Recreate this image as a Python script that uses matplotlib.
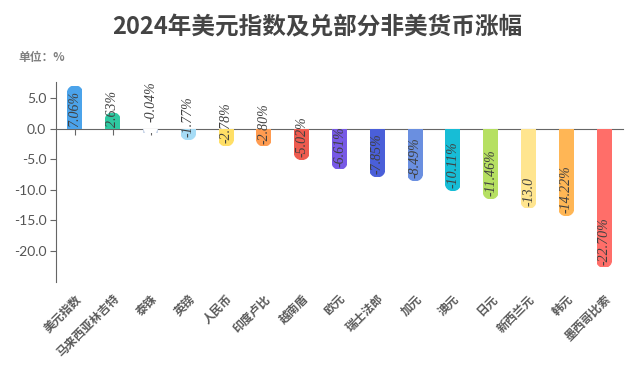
import matplotlib
matplotlib.use("Agg")
import matplotlib.pyplot as plt
from matplotlib.patches import Rectangle, Ellipse

plt.rcParams['font.family'] = ['Noto Sans CJK SC', 'DejaVu Sans']

# data
currencies = ['美元指数', '马来西亚林吉特', '泰铢', '英镑', '人民币', '印度卢比', '越南盾', '欧元',
              '瑞士法郎', '加元', '澳元', '日元', '新西兰元', '韩元', '墨西哥比索']
changes = [7.06, 2.63, -0.04, -1.77, -2.78, -2.80, -5.02, -6.61,
           -7.85, -8.49, -10.11, -11.46, -13.0, -14.22, -22.70]
value_labels = ['7.06%', '2.63%', '-0.04%', '-1.77%', '-2.78%', '-2.80%', '-5.02%', '-6.61%',
                '-7.85%', '-8.49%', '-10.11%', '-11.46%', '-13.0', '-14.22%', '-22.70%']
colors = ['#4ba3ea', '#2ec9a1', '#e4ebf5', '#a6dcf6', '#ffdf66', '#ff9b50', '#ee5b4f', '#7759e6',
          '#4a5fd9', '#6a8fe0', '#17bdd6', '#b6e062', '#ffe58f', '#ffb655', '#ff6e69']
yticks = [5.0, 0.0, -5.0, -10.0, -15.0, -20.0]

W, H = 635, 377
fig = plt.figure(figsize=(W / 100, H / 100), dpi=100)
ax = fig.add_axes([56 / W, 1 - 282 / H, (623 - 56) / W, 200 / H])
ax.set_xlim(-0.5, len(currencies) - 0.5)
ax.set_ylim(-25.1, 7.7)

# pixel sizes -> data units
px_x = (len(currencies)) / (623 - 56)
px_y = (7.7 + 25.1) / 200
bar_w = 15 * px_x
ry = 7.5 * px_y

for i, v in enumerate(changes):
    sign = 1 if v >= 0 else -1
    clip = Rectangle((i - bar_w / 2, min(0, v)), bar_w, abs(v), transform=ax.transData)
    body = v - sign * ry
    if abs(v) > ry:
        ax.bar(i, body, width=bar_w, color=colors[i], zorder=2)
    cap = Ellipse((i, body), bar_w, 2 * ry, color=colors[i], zorder=2)
    ax.add_patch(cap)
    cap.set_clip_path(clip)
    if abs(v) < 0.5:
        # tiny bar drawn as a light rounded stub
        stub = Ellipse((i, 0), bar_w, 2 * ry, facecolor='white', edgecolor='#c9d5e8', lw=1.2, zorder=2)
        ax.add_patch(stub)
        stub.set_clip_path(Rectangle((i - bar_w / 2, -0.7), bar_w, 0.7, transform=ax.transData))
    ystart = 0.25 if v >= 0 else v + 0.4
    if abs(v) < 0.5:
        ystart = 1.1
    ax.text(i, ystart, value_labels[i], rotation=90, rotation_mode='anchor', ha='left', va='center',
            family='Liberation Serif', style='italic', fontsize=10, color='#404040', zorder=3)

# axes styling
for s in ['top', 'right']:
    ax.spines[s].set_visible(False)
ax.spines['left'].set_color('#666666')
ax.spines['bottom'].set_position(('data', 0))
ax.spines['bottom'].set_color('#666666')
ax.spines['bottom'].set_zorder(1)
ax.set_xticks(range(len(currencies)))
ax.set_xticklabels([])
ax.tick_params(axis='x', length=4, color='#666666', direction='out')
ax.set_yticks(yticks)
ax.set_yticklabels([f'{t:.1f}' for t in yticks], family='Lato', fontsize=10, color='#555555')
ax.tick_params(axis='y', length=4, color='#666666', pad=3)

# category labels at bottom
for i, name in enumerate(currencies):
    ax.text(i + 0.12, -0.075, name, transform=ax.get_xaxis_transform(), rotation=45,
            rotation_mode='anchor', ha='right', va='center', fontsize=8.5, fontweight='bold',
            color='#5a5a5a')

fig.text(0.5, 1 - 27 / H, '2024年美元指数及兑部分非美货币涨幅', ha='center', va='center',
         fontsize=17, fontweight='bold', color='#444444')
fig.text(18 / W, 1 - 58 / H, '单位：%', ha='left', va='center', fontsize=8.5, fontweight='bold',
         color='#808080')

fig.savefig('out.png', dpi=100)
